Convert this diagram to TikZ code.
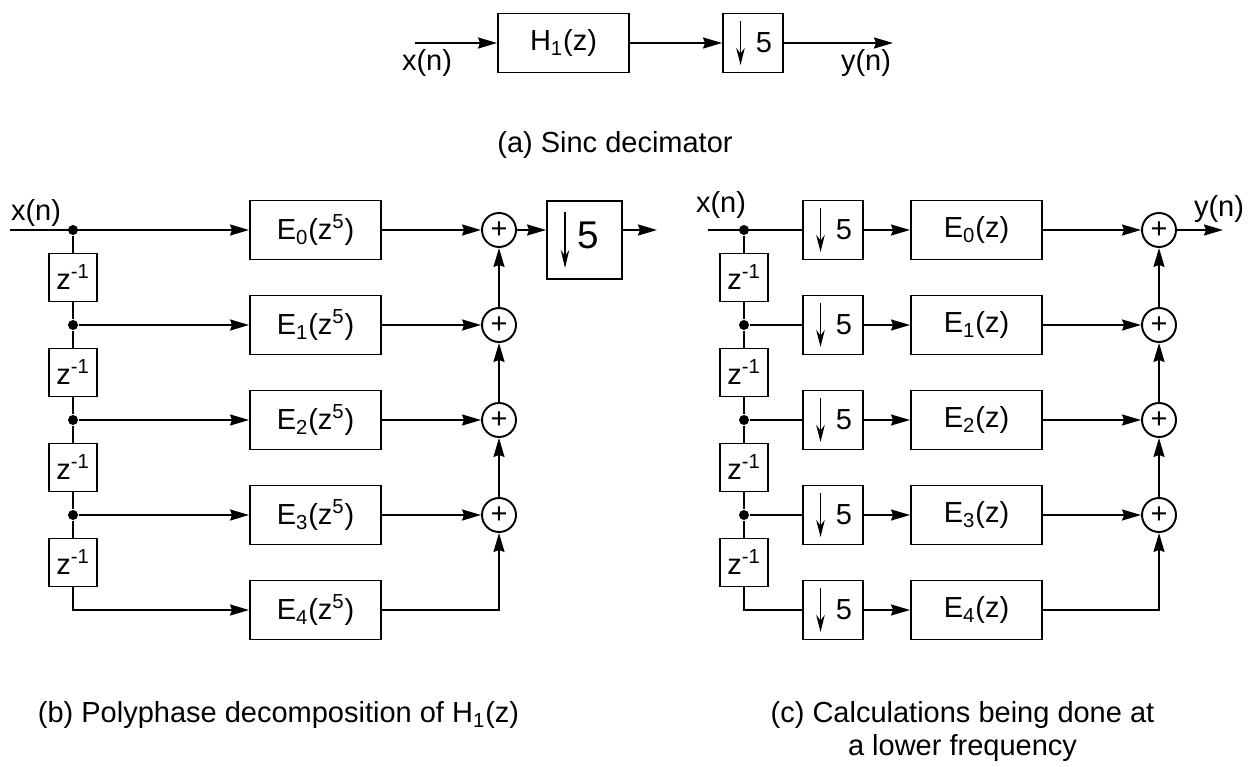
\documentclass[tikz,border=0pt]{standalone}
\usepackage{fontspec}
\setmainfont{Liberation Sans}
\usetikzlibrary{arrows.meta, positioning}

\begin{document}
\begin{tikzpicture}[line width=1.1pt, on grid,
		>={Stealth[length=0.38cm, width=0.22cm, inset=0.04cm]},
		font=\fontsize{16.5}{19}\selectfont
	]

	\tikzset{
		block/.style={
				draw, minimum width=2.62cm, minimum height=1.18cm, inner sep=0pt
			},
		delay/.style={
				draw, minimum width=0.96cm, minimum height=0.96cm, inner sep=0pt
			},
		adder/.style={
				circle, draw, minimum size=0.68cm, inner sep=0pt
			},
		junction/.style={
				circle, fill, minimum size=0.2cm, inner sep=0pt
			},
		decim/.style={
				draw, minimum width=1.2cm, minimum height=1.18cm, inner sep=0pt,
				label={[xshift=0.22cm]center:5},
				path picture={\draw[->, >={Stealth[length=0.34cm, width=0.17cm]}] ([shift={(-0.25,0.44)}]path picture bounding box.center) -- ++(0,-0.88);}
			},
		bigdecim/.style={
				draw, minimum width=1.5cm, minimum height=1.56cm, inner sep=0pt,
				label={[xshift=0.07cm, yshift=0.09cm, font=\fontsize{22}{26}\selectfont]center:5},
				path picture={\draw[->, >={Stealth[length=0.36cm, width=0.17cm]}] ([shift={(-0.39,0.56)}]path picture bounding box.center) -- ++(0,-1.12);}
			},
	}

	\useasboundingbox (0,0) rectangle (25.2,-15.34);

	% (a)
	\coordinate (xa) at (8.3,-0.86);
	\node[block](ha) at (11.27,-0.86){H\textsubscript{1}(z)};
	\node[decim, right=3.79cm of ha](da){};
	\coordinate[right=2.8cm of da] (oa);
	\node(xla) at (8.54,-1.26){x(n)};
	\node(yla) at (17.32,-1.26){y(n)};
	\draw[->] (xa) -- (ha);
	\draw[->] (ha) -- (da);
	\draw[->] (da) -- (oa);
	\node(capa) at (12.3,-2.9){(a) Sinc decimator};

	% (b)
	\node[block](eb0) at (6.31,-4.6){E\textsubscript{0}(z\textsuperscript{5})};
	\node[block, below=1.9cm of eb0](eb1){E\textsubscript{1}(z\textsuperscript{5})};
	\node[block, below=1.9cm of eb1](eb2){E\textsubscript{2}(z\textsuperscript{5})};
	\node[block, below=1.9cm of eb2](eb3){E\textsubscript{3}(z\textsuperscript{5})};
	\node[block, below=1.9cm of eb3](eb4){E\textsubscript{4}(z\textsuperscript{5})};

	\node[junction](jb0) at (1.46,-4.6){};
	\node[delay, below=0.95cm of jb0](zb1){z\textsuperscript{-1}};
	\node[junction, below=0.95cm of zb1](jb1){};
	\node[delay, below=0.95cm of jb1](zb2){z\textsuperscript{-1}};
	\node[junction, below=0.95cm of zb2](jb2){};
	\node[delay, below=0.95cm of jb2](zb3){z\textsuperscript{-1}};
	\node[junction, below=0.95cm of zb3](jb3){};
	\node[delay, below=0.95cm of jb3](zb4){z\textsuperscript{-1}};

	\node[adder, right=3.67cm of eb0](sb0){+};
	\node[adder, right=3.67cm of eb1](sb1){+};
	\node[adder, right=3.67cm of eb2](sb2){+};
	\node[adder, right=3.67cm of eb3](sb3){+};
	\node[bigdecim](db) at (11.69,-4.8){};

	\coordinate (xb) at (0.2,-4.6);
	\coordinate (ob) at (13.14,-4.6);
	\node(xlb) at (0.72,-4.27){x(n)};

	\draw[->] (xb) -- (eb0);
	\draw (jb0) -- (zb1) -- (jb1) -- (zb2) -- (jb2) -- (zb3) -- (jb3) -- (zb4);
	\draw[->] (jb1) -- (eb1);
	\draw[->] (jb2) -- (eb2);
	\draw[->] (jb3) -- (eb3);
	\draw[->] (zb4) |- (eb4);

	\draw[->] (eb0) -- (sb0);
	\draw[->] (eb1) -- (sb1);
	\draw[->] (eb2) -- (sb2);
	\draw[->] (eb3) -- (sb3);
	\draw[->] (eb4) -| (sb3);
	\draw[->] (sb3) -- (sb2);
	\draw[->] (sb2) -- (sb1);
	\draw[->] (sb1) -- (sb0);
	\draw[->] (sb0) -- (sb0 -| db.west);
	\draw[->] (sb0 -| db.east) -- (ob);
	\node(capb) at (5.57,-14.3){(b) Polyphase decomposition of H\textsubscript{1}(z)};

	% (c)
	\node[decim](dc0) at (16.66,-4.6){};
	\node[decim, below=1.9cm of dc0](dc1){};
	\node[decim, below=1.9cm of dc1](dc2){};
	\node[decim, below=1.9cm of dc2](dc3){};
	\node[decim, below=1.9cm of dc3](dc4){};

	\node[block, right=2.87cm of dc0](ec0){E\textsubscript{0}(z)};
	\node[block, right=2.87cm of dc1](ec1){E\textsubscript{1}(z)};
	\node[block, right=2.87cm of dc2](ec2){E\textsubscript{2}(z)};
	\node[block, right=2.87cm of dc3](ec3){E\textsubscript{3}(z)};
	\node[block, right=2.87cm of dc4](ec4){E\textsubscript{4}(z)};

	\node[junction](jc0) at (14.88,-4.6){};
	\node[delay, below=0.95cm of jc0](zc1){z\textsuperscript{-1}};
	\node[junction, below=0.95cm of zc1](jc1){};
	\node[delay, below=0.95cm of jc1](zc2){z\textsuperscript{-1}};
	\node[junction, below=0.95cm of zc2](jc2){};
	\node[delay, below=0.95cm of jc2](zc3){z\textsuperscript{-1}};
	\node[junction, below=0.95cm of zc3](jc3){};
	\node[delay, below=0.95cm of jc3](zc4){z\textsuperscript{-1}};

	\node[adder, right=3.65cm of ec0](sc0){+};
	\node[adder, right=3.65cm of ec1](sc1){+};
	\node[adder, right=3.65cm of ec2](sc2){+};
	\node[adder, right=3.65cm of ec3](sc3){+};

	\coordinate (xc) at (14.16,-4.6);
	\coordinate[right=1.28cm of sc0] (oc);
	\node(xlc) at (14.42,-4.1){x(n)};
	\node(ylc) at (24.38,-4.19){y(n)};

	\draw (xc) -- (dc0);
	\draw (jc0) -- (zc1) -- (jc1) -- (zc2) -- (jc2) -- (zc3) -- (jc3) -- (zc4);
	\draw (jc1) -- (dc1);
	\draw (jc2) -- (dc2);
	\draw (jc3) -- (dc3);
	\draw (zc4) |- (dc4);

	\draw[->] (dc0) -- (ec0);
	\draw[->] (dc1) -- (ec1);
	\draw[->] (dc2) -- (ec2);
	\draw[->] (dc3) -- (ec3);
	\draw[->] (dc4) -- (ec4);

	\draw[->] (ec0) -- (sc0);
	\draw[->] (ec1) -- (sc1);
	\draw[->] (ec2) -- (sc2);
	\draw[->] (ec3) -- (sc3);
	\draw[->] (ec4) -| (sc3);
	\draw[->] (sc3) -- (sc2);
	\draw[->] (sc2) -- (sc1);
	\draw[->] (sc1) -- (sc0);
	\draw[->] (sc0) -- (oc);
	\node[align=center](capc) at (19.25,-14.63){(c) Calculations being done at\\a lower frequency};
\end{tikzpicture}
\end{document}
